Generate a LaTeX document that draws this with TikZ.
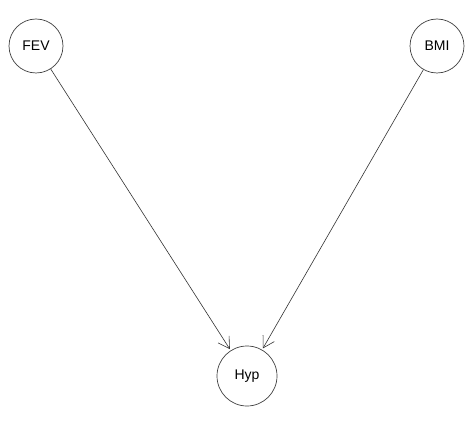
\documentclass[tikz,border=0pt]{standalone}
\usepackage{fontspec}
\setmainfont{Liberation Sans}
\usetikzlibrary{arrows.meta}
\begin{document}
\begin{tikzpicture}[x=1pt,y=-1pt,
  var/.style={circle,draw=black!75,line width=0.7pt,minimum size=54pt,inner sep=0pt,font=\fontsize{14}{16}\selectfont},
  edge/.style={draw=black!80,line width=0.6pt,-{Straight Barb[length=11pt,width=13pt,line width=0.6pt]},shorten >=1.5pt}]
  \useasboundingbox[fill=white] (0,0) rectangle (476,438);
  \node[var] (fev) at (36,46) {FEV};
  \node[var] (bmi) at (437,46) {BMI};
  \node[var,minimum size=60pt] (hyp) at (247,376) {Hyp};
  \draw[edge] (fev) -- (hyp);
  \draw[edge] (bmi) -- (hyp);
\end{tikzpicture}
\end{document}
